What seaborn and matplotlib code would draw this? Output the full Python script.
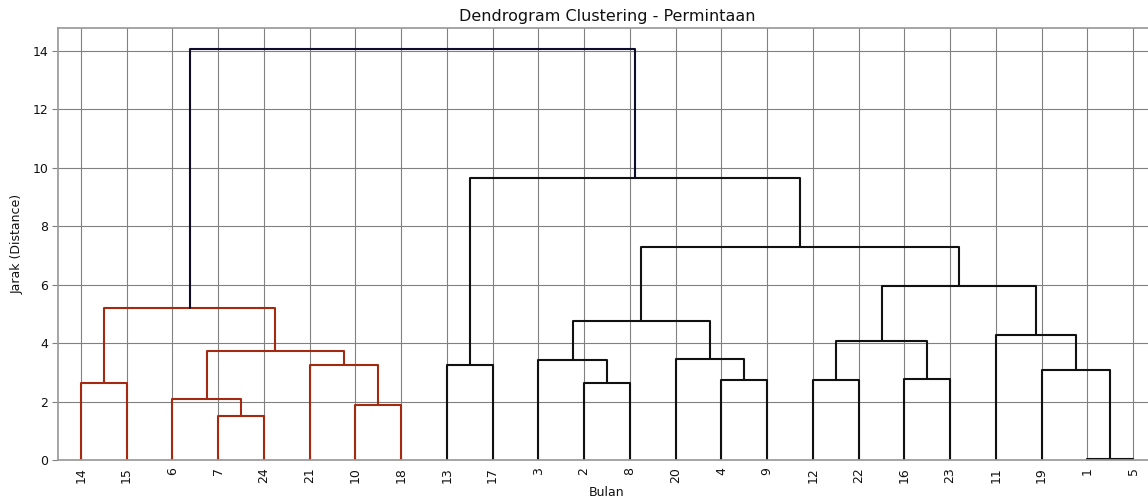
import numpy as np
import pandas as pd
import matplotlib
matplotlib.use("Agg")
import matplotlib.pyplot as plt
import seaborn as sns

# ---- data ----
months = list(range(1, 25))  # leaf labels; leaf id = month - 1
# merges (scipy-like linkage): ids < 24 are leaves, id 24+k is merge k
merge_left = [13, 6, 5, 9, 20, 26, 24, 12, 1, 2, 3, 19, 33, 11, 15, 37, 0, 18, 10, 39, 36, 31, 30]
merge_right = [14, 23, 25, 17, 27, 28, 29, 16, 7, 32, 8, 34, 35, 21, 22, 38, 4, 40, 41, 42, 43, 44, 45]
merge_height = [2.62, 1.50, 2.10, 1.88, 3.24, 3.74, 5.19, 3.26, 2.65, 3.43, 2.74, 3.44,
                4.77, 2.74, 2.76, 4.07, 0.02, 3.09, 4.28, 5.97, 7.30, 9.66, 14.08]
red_cluster_root = 30
title = "Dendrogram Clustering - Permintaan"
xlabel = "Bulan"
ylabel = "Jarak (Distance)"

n = len(months)
root = n + len(merge_height) - 1

# ---- layout ----
leaf_order = []
node_x = {}
node_y = {}


def place(node):
    if node < n:
        node_x[node] = 5 + 10 * len(leaf_order)
        node_y[node] = 0.0
        leaf_order.append(node)
        return
    k = node - n
    place(merge_left[k])
    place(merge_right[k])
    node_x[node] = (node_x[merge_left[k]] + node_x[merge_right[k]]) / 2
    node_y[node] = merge_height[k]


place(root)


def subtree(node):
    out = {node}
    if node >= n:
        k = node - n
        out |= subtree(merge_left[k]) | subtree(merge_right[k])
    return out


red_nodes = subtree(red_cluster_root)

rows = []
for k in range(len(merge_height)):
    node = n + k
    a, b = merge_left[k], merge_right[k]
    xs = [node_x[a], node_x[a], node_x[b], node_x[b]]
    ys = [node_y[a], merge_height[k], merge_height[k], node_y[b]]
    grp = "red" if node in red_nodes else ("root" if node == root else "black")
    for i, (x, y) in enumerate(zip(xs, ys)):
        rows.append({"x": x, "y": y, "seg": k, "order": i, "grp": grp})
df = pd.DataFrame(rows)

# ---- style ----
sns.set_theme(style="whitegrid", rc={
    "axes.edgecolor": "#9a9a9a",
    "grid.color": "#808080",
    "grid.linewidth": 0.8,
    "ytick.left": True,
    "ytick.color": "#808080",
    "ytick.labelcolor": "#111111",
    "xtick.labelcolor": "#111111",
    "text.color": "#111111",
    "axes.labelcolor": "#111111",
})
plt.rcParams["font.family"] = ["DejaVu Sans"]

fig = plt.figure(figsize=(11.48, 5.01), dpi=100)
ax = fig.add_axes([58 / 1148, 1 - 460 / 501, (1156 - 58) / 1148, (460 - 28) / 501])

palette = {"red": "#a32a10", "black": "#111111", "root": "#0d0d2b"}
sns.lineplot(data=df, x="x", y="y", units="seg", estimator=None, sort=False,
             hue="grp", palette=palette, legend=False, linewidth=1.5, ax=ax)

ax.set_xlim(0, 10 * n)
ax.set_ylim(0, max(merge_height) * 1.05)
ax.set_xticks([node_x[l] for l in leaf_order])
ax.set_xticklabels([str(months[l]) for l in leaf_order], rotation=90, fontsize=9)
ax.set_yticks(np.arange(0, 15, 2))
ax.tick_params(axis="y", labelsize=9, length=4, width=0.8, pad=3)
ax.tick_params(axis="x", length=0, pad=5)
ax.grid(True, color="#808080", linewidth=0.8)
ax.set_title(title, fontsize=11.5, pad=5)
ax.set_xlabel(xlabel, fontsize=9, labelpad=2)
ax.set_ylabel(ylabel, fontsize=9, labelpad=6)

fig.savefig("out.png", dpi=100)
